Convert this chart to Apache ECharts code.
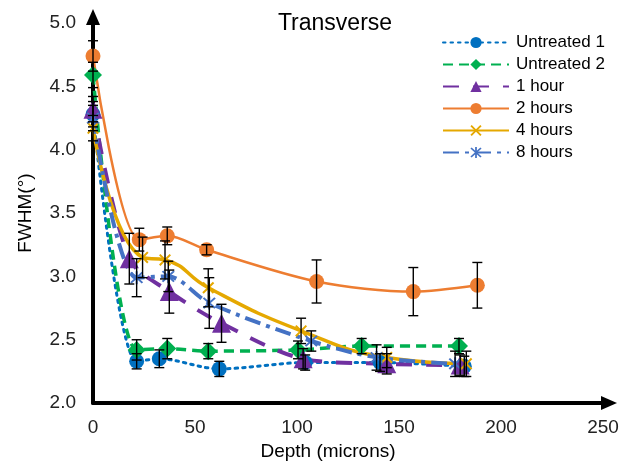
<!DOCTYPE html>
<html>
<head>
<meta charset="utf-8">
<script src="https://cdn.jsdelivr.net/npm/echarts@6/dist/echarts.min.js"></script>
<style>
  html, body { margin: 0; padding: 0; background: #fff; }
  #main { width: 625px; height: 466px; }
</style>
</head>
<body>
<div id="main"></div>
<script>
// depth (microns), FWHM (deg) and error bar half-length for each sample
var u1X = [0, 21.4, 32.5, 61.9, 104, 140.7, 182];
var u1Y = [4.28, 2.33, 2.35, 2.27, 2.32, 2.32, 2.29];
var u1Err = [0.1, 0.06, 0.07, 0.06, 0.06, 0.07, 0.08];

var u2X = [0, 21.4, 36.4, 56.5, 100.5, 131.7, 179.4];
var u2Y = [4.59, 2.42, 2.43, 2.41, 2.42, 2.45, 2.45];
var u2Err = [0.1, 0.08, 0.08, 0.06, 0.07, 0.06, 0.06];

var h1X = [0, 17.8, 37.4, 63, 103, 144, 180];
var h1Y = [4.32, 3.14, 2.88, 2.63, 2.35, 2.31, 2.30];
var h1Err = [0.1, 0.2, 0.17, 0.15, 0.08, 0.08, 0.08];

var h2X = [0, 22.7, 36.4, 55.7, 109.6, 157, 188.4];
var h2Y = [4.74, 3.29, 3.32, 3.21, 2.96, 2.88, 2.93];
var h2Err = [0.12, 0.09, 0.07, 0.04, 0.17, 0.19, 0.18];

var h4X = [0, 24.3, 35.3, 56.5, 102, 144, 183];
var h4Y = [4.17, 3.15, 3.13, 2.91, 2.57, 2.36, 2.31];
var h4Err = [0.1, 0.16, 0.15, 0.15, 0.1, 0.08, 0.1];

var h8X = [0, 21.4, 36.9, 57, 107, 139, 177.5];
var h8Y = [4.25, 2.99, 3.00, 2.79, 2.49, 2.36, 2.31];
var h8Err = [0.1, 0.15, 0.12, 0.2, 0.08, 0.1, 0.1];

var xTicks = [0, 50, 100, 150, 200, 250];
var yTicks = [2.0, 2.5, 3.0, 3.5, 4.0, 4.5, 5.0];

function pairs(xs, ys) {
    return xs.map(function (x, i) { return [x, ys[i]]; });
}

// all error bars in one list: [x, y, err]
var errData = [];
[[u1X, u1Y, u1Err], [u2X, u2Y, u2Err], [h1X, h1Y, h1Err],
 [h2X, h2Y, h2Err], [h4X, h4Y, h4Err], [h8X, h8Y, h8Err]].forEach(function (s) {
    s[0].forEach(function (x, i) { errData.push([x, s[1][i], s[2][i]]); });
});

var xMark = 'path://M0,1.2L1.2,0L5,3.8L8.8,0L10,1.2L6.2,5L10,8.8L8.8,10L5,6.2L1.2,10L0,8.8L3.8,5Z';
var starMark = 'path://M4.3,0h1.4v10h-1.4zM0.5,1.5l1,-1l8,8l-1,1zM8.5,0.5l1,1l-8,8l-1,-1z';

var font = 'Liberation Sans';

var chart = echarts.init(document.getElementById('main'));

var option = {
    animation: false,
    title: {
        text: 'Transverse',
        left: 330,
        textAlign: 'center',
        top: 7,
        textStyle: { fontFamily: font, fontSize: 23, fontWeight: 'normal', color: '#000' }
    },
    grid: { left: 93, right: 22, top: 23, bottom: 55, containLabel: false },
    legend: {
        orient: 'vertical',
        left: 442,
        top: 34,
        padding: 0,
        itemWidth: 66,
        itemHeight: 14,
        itemGap: 5,
        textStyle: { fontFamily: font, fontSize: 17, color: '#000', padding: [0, 0, 0, 2] },
        data: ['Untreated 1', 'Untreated 2', '1 hour', '2 hours', '4 hours', '8 hours']
    },
    xAxis: {
        type: 'value',
        min: 0,
        max: 250,
        interval: 50,
        name: 'Depth (microns)',
        nameLocation: 'middle',
        nameGap: 32,
        nameTextStyle: { fontFamily: font, fontSize: 19, color: '#000', padding: [0, 40, 0, 0] },
        axisLine: {
            show: true,
            symbol: ['none', 'triangle'],
            symbolSize: [14, 16],
            symbolOffset: [0, 6],
            lineStyle: { color: '#000', width: 4 }
        },
        axisTick: { show: false },
        splitLine: { show: false },
        axisLabel: {
            fontFamily: font, fontSize: 19, color: '#222', margin: 15,
            formatter: function (v) { return xTicks.indexOf(v) >= 0 ? String(v) : ''; }
        }
    },
    yAxis: {
        type: 'value',
        min: 2,
        max: 5,
        interval: 0.5,
        name: 'FWHM(°)',
        nameLocation: 'middle',
        nameGap: 58,
        nameTextStyle: { fontFamily: font, fontSize: 19, color: '#000' },
        axisLine: {
            show: true,
            symbol: ['none', 'triangle'],
            symbolSize: [14, 16],
            symbolOffset: [0, 6],
            lineStyle: { color: '#000', width: 4 }
        },
        axisTick: { show: false },
        splitLine: { show: false },
        axisLabel: {
            fontFamily: font, fontSize: 19, color: '#222', margin: 17,
            formatter: function (v) {
                var hit = yTicks.filter(function (t) { return Math.abs(t - v) < 1e-6; });
                return hit.length ? hit[0].toFixed(1) : '';
            }
        }
    },
    series: [
        {
            name: 'Untreated 1', type: 'line', smooth: 0.3, clip: false,
            data: pairs(u1X, u1Y),
            symbol: 'circle', symbolSize: 15,
            itemStyle: { color: '#0070C0' },
            lineStyle: { color: '#0070C0', width: 3, type: [2.5, 5], cap: 'round' }
        },
        {
            name: 'Untreated 2', type: 'line', smooth: 0.3, clip: false,
            data: pairs(u2X, u2Y),
            symbol: 'diamond', symbolSize: 18,
            itemStyle: { color: '#00B050' },
            lineStyle: { color: '#00B050', width: 3.5, type: [10, 6] }
        },
        {
            name: '1 hour', type: 'line', smooth: 0.3, clip: false,
            data: pairs(h1X, h1Y),
            symbol: 'triangle', symbolSize: 19,
            itemStyle: { color: '#7030A0' },
            lineStyle: { color: '#7030A0', width: 4, type: [16, 14] }
        },
        {
            name: '2 hours', type: 'line', smooth: 0.3, clip: false,
            data: pairs(h2X, h2Y),
            symbol: 'circle', symbolSize: 15,
            itemStyle: { color: '#ED7D31' },
            lineStyle: { color: '#ED7D31', width: 2.5 }
        },
        {
            name: '4 hours', type: 'line', smooth: 0.5, clip: false,
            data: pairs(h4X, h4Y),
            symbol: xMark, symbolSize: 12,
            itemStyle: { color: '#E5A800' },
            lineStyle: { color: '#E5A800', width: 3.5 }
        },
        {
            name: '8 hours', type: 'line', smooth: 0.3, clip: false,
            data: pairs(h8X, h8Y),
            symbol: starMark, symbolSize: 13,
            itemStyle: { color: '#4472C4' },
            lineStyle: { color: '#4472C4', width: 4, type: [16, 6, 4, 6] }
        },
        {
            name: 'err', type: 'custom', z: 10, silent: true,
            data: errData,
            renderItem: function (params, api) {
                var x = api.value(0), y = api.value(1), e = api.value(2);
                var top = api.coord([x, y + e]);
                var bot = api.coord([x, y - e]);
                var w = 5;
                var st = { stroke: '#000', lineWidth: 1.4 };
                return {
                    type: 'group',
                    children: [
                        { type: 'line', shape: { x1: top[0], y1: top[1], x2: bot[0], y2: bot[1] }, style: st },
                        { type: 'line', shape: { x1: top[0] - w, y1: top[1], x2: top[0] + w, y2: top[1] }, style: st },
                        { type: 'line', shape: { x1: bot[0] - w, y1: bot[1], x2: bot[0] + w, y2: bot[1] }, style: st }
                    ]
                };
            }
        }
    ]
};

chart.setOption(option);
</script>
</body>
</html>
